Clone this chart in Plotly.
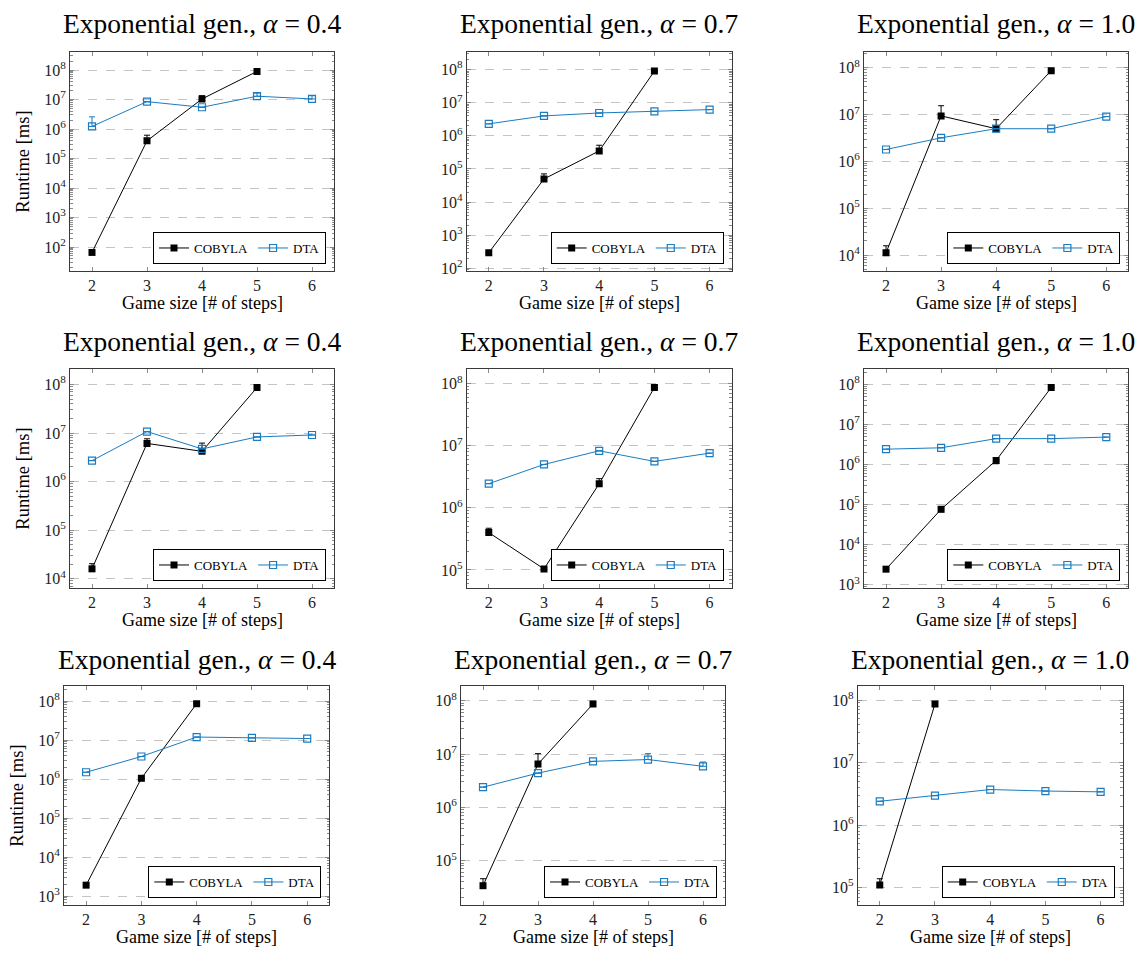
import plotly.graph_objects as go

# ---------------- data ----------------
game_sizes = [2, 3, 4, 5, 6]
alphas = ["0.4", "0.7", "1.0"]

# row 1
cobyla_r1_a04 = [66, 4.0e5, 1.05e7, 9.0e7]
cobyla_r1_a04_err = [0, 2.2e5, 3.0e6, 0]
dta_r1_a04 = [1.23e6, 8.5e6, 5.5e6, 1.3e7, 1.05e7]
dta_r1_a04_err = [1.37e6, 0, 0, 3.6e6, 3.0e6]

cobyla_r1_a07 = [295, 5.0e4, 3.5e5, 9.0e7]
cobyla_r1_a07_err = [0, 2.1e4, 1.7e5, 0]
dta_r1_a07 = [2.3e6, 4.0e6, 4.9e6, 5.5e6, 6.2e6]
dta_r1_a07_err = [0, 0, 0, 0, 0]

cobyla_r1_a10 = [1.12e4, 9.4e6, 5.0e6, 8.7e7]
cobyla_r1_a10_err = [4.6e3, 6.1e6, 2.8e6, 0]
dta_r1_a10 = [1.8e6, 3.2e6, 5.0e6, 5.0e6, 9.1e6]
dta_r1_a10_err = [0, 0, 0, 0, 0]

# row 2
cobyla_r2_a04 = [1.6e4, 6.1e6, 4.2e6, 8.6e7]
cobyla_r2_a04_err = [4.4e3, 1.5e6, 2.0e6, 0]
dta_r2_a04 = [2.7e6, 1.07e7, 4.7e6, 8.3e6, 9.1e6]
dta_r2_a04_err = [0, 0, 0, 0, 0]

cobyla_r2_a07 = [4.0e5, 1.04e5, 2.45e6, 8.7e7]
cobyla_r2_a07_err = [7.0e4, 0, 5.0e5, 0]
dta_r2_a07 = [2.45e6, 5.0e6, 8.3e6, 5.6e6, 7.6e6]
dta_r2_a07_err = [0, 0, 0, 0, 0]

cobyla_r2_a10 = [2.45e3, 7.6e4, 1.26e6, 8.3e7]
cobyla_r2_a10_err = [0, 0, 0, 0]
dta_r2_a10 = [2.4e6, 2.6e6, 4.4e6, 4.4e6, 4.8e6]
dta_r2_a10_err = [0, 0, 0, 0, 0]

# row 3
cobyla_r3_a04 = [1.9e3, 1.05e6, 8.6e7]
cobyla_r3_a04_err = [0, 0, 0]
dta_r3_a04 = [1.5e6, 3.8e6, 1.2e7, 1.14e7, 1.1e7]
dta_r3_a04_err = [0, 0, 0, 0, 0]

cobyla_r3_a07 = [3.4e4, 6.5e6, 8.7e7]
cobyla_r3_a07_err = [1.2e4, 3.7e6, 0]
dta_r3_a07 = [2.4e6, 4.4e6, 7.3e6, 7.9e6, 5.9e6]
dta_r3_a07_err = [0, 0, 0, 2.3e6, 1.2e6]

cobyla_r3_a10 = [1.1e5, 8.7e7]
cobyla_r3_a10_err = [2.8e4, 0]
dta_r3_a10 = [2.4e6, 2.95e6, 3.7e6, 3.5e6, 3.4e6]
dta_r3_a10_err = [0, 0, 0, 0, 0]

panels = [
    (cobyla_r1_a04, cobyla_r1_a04_err, dta_r1_a04, dta_r1_a04_err),
    (cobyla_r1_a07, cobyla_r1_a07_err, dta_r1_a07, dta_r1_a07_err),
    (cobyla_r1_a10, cobyla_r1_a10_err, dta_r1_a10, dta_r1_a10_err),
    (cobyla_r2_a04, cobyla_r2_a04_err, dta_r2_a04, dta_r2_a04_err),
    (cobyla_r2_a07, cobyla_r2_a07_err, dta_r2_a07, dta_r2_a07_err),
    (cobyla_r2_a10, cobyla_r2_a10_err, dta_r2_a10, dta_r2_a10_err),
    (cobyla_r3_a04, cobyla_r3_a04_err, dta_r3_a04, dta_r3_a04_err),
    (cobyla_r3_a07, cobyla_r3_a07_err, dta_r3_a07, dta_r3_a07_err),
    (cobyla_r3_a10, cobyla_r3_a10_err, dta_r3_a10, dta_r3_a10_err),
]

# log10 y-ranges of each panel
y_ranges = [
    [1.19, 8.60], [1.92, 8.52], [3.66, 8.33],
    [3.81, 8.31], [4.71, 8.23], [2.92, 8.37],
    [2.77, 8.38], [4.17, 8.27], [4.72, 8.22],
]

# ---------------- layout geometry (pixels) ----------------
W, H = 1146, 956
row_tops = [52.7, 371.7, 690.7]
row_bottoms = [272.7, 591.7, 910.7]
col_lr = [
    [(70, 334), (466.7, 731.7), (864, 1128.3)],
    [(70, 334), (466.7, 731.7), (864, 1128.3)],
    [(64, 329.3), (461, 725), (857.7, 1122.7)],
]
title_y = [24, 344, 664]

SERIF = "Liberation Serif, DejaVu Serif, serif"
BLUE = "#1a7cc1"
FRAME = "#3a3a3a"
TICK = "#8a8a8a"

fig = go.Figure()
layout = dict(
    width=W, height=H,
    margin=dict(l=0, r=0, t=0, b=0),
    paper_bgcolor="white", plot_bgcolor="white",
    showlegend=True,
    font=dict(family=SERIF, color="black"),
)
annotations = []

for i, (cob, cob_err, dta, dta_err) in enumerate(panels):
    r, c = divmod(i, 3)
    n = i + 1
    xa = "x" if n == 1 else f"x{n}"
    ya = "y" if n == 1 else f"y{n}"
    leg = "legend" if n == 1 else f"legend{n}"
    left, right = col_lr[r][c]
    top, bottom = row_tops[r], row_bottoms[r]

    lo, hi = y_ranges[i]
    decades = list(range(int(lo) if lo == int(lo) else int(lo) + 1, int(hi) + 1))
    minor_vals = [m * 10 ** k for k in range(int(lo) - 1, int(hi) + 1) for m in range(2, 10)]

    fig.add_trace(go.Scatter(
        x=game_sizes[:len(cob)], y=cob, name="COBYLA", mode="lines+markers",
        line=dict(color="black", width=1),
        marker=dict(symbol="square", size=7, color="black"),
        error_y=dict(type="data", symmetric=False, array=cob_err,
                     arrayminus=[0] * len(cob), color="black", thickness=1, width=3),
        xaxis=xa, yaxis=ya, legend=leg,
    ))
    fig.add_trace(go.Scatter(
        x=game_sizes[:len(dta)], y=dta, name="DTA", mode="lines+markers",
        line=dict(color=BLUE, width=1),
        marker=dict(symbol="square-open", size=7, color=BLUE, line=dict(width=1.2, color=BLUE)),
        error_y=dict(type="data", symmetric=False, array=dta_err,
                     arrayminus=[0] * len(dta), color=BLUE, thickness=1, width=3),
        xaxis=xa, yaxis=ya, legend=leg,
    ))

    xkey = "xaxis" if n == 1 else f"xaxis{n}"
    ykey = "yaxis" if n == 1 else f"yaxis{n}"
    layout[xkey] = dict(
        domain=[left / W, right / W], anchor=ya, range=[1.6, 6.4],
        tickvals=game_sizes, ticktext=[str(v) for v in game_sizes],
        ticks="inside", ticklen=4, tickcolor=TICK, tickwidth=1,
        showline=True, linecolor=FRAME, linewidth=1, mirror="allticks",
        showgrid=False, zeroline=False,
        tickfont=dict(family=SERIF, size=16, color="#222"),
    )
    layout[ykey] = dict(
        domain=[1 - bottom / H, 1 - top / H], anchor=xa, type="log", range=[lo, hi],
        tickvals=[10 ** k for k in decades],
        ticktext=[f"10<sup>{k}</sup>" for k in decades],
        ticks="inside", ticklen=4, tickcolor=TICK, tickwidth=1,
        minor=dict(tickvals=minor_vals, ticks="inside", ticklen=2.5, tickcolor=TICK, showgrid=False),
        showline=True, linecolor=FRAME, linewidth=1, mirror="allticks",
        showgrid=True, gridcolor="#c4c4c4", griddash="dash", gridwidth=1,
        zeroline=False,
        tickfont=dict(family=SERIF, size=16, color="#222"),
    )
    layout[leg] = dict(
        orientation="h", x=(right - 8) / W, y=1 - (bottom - 7) / H,
        xanchor="right", yanchor="bottom", xref="paper", yref="paper",
        bgcolor="white", bordercolor="black", borderwidth=1,
        font=dict(family=SERIF, size=13, color="black"),
        itemwidth=30, tracegroupgap=0, itemclick=False,
    )

    annotations.append(dict(
        text=f"Exponential gen., <i>α</i> = {alphas[c]}",
        x=(left + right) / 2 / W, y=1 - title_y[r] / H, xref="paper", yref="paper",
        xanchor="center", yanchor="middle", showarrow=False,
        font=dict(family=SERIF, size=27.5, color="black"),
    ))
    annotations.append(dict(
        text="Game size [# of steps]",
        x=(left + right) / 2 / W, y=1 - (bottom + 32) / H, xref="paper", yref="paper",
        xanchor="center", yanchor="middle", showarrow=False,
        font=dict(family=SERIF, size=18, color="black"),
    ))
    if c == 0:
        annotations.append(dict(
            text="Runtime [ms]", textangle=-90,
            x=(left - 47) / W, y=1 - (top + bottom) / 2 / H, xref="paper", yref="paper",
            xanchor="center", yanchor="middle", showarrow=False,
            font=dict(family=SERIF, size=18.5, color="black"),
        ))

layout["annotations"] = annotations
fig.update_layout(**layout)
fig.write_html("out.html")
